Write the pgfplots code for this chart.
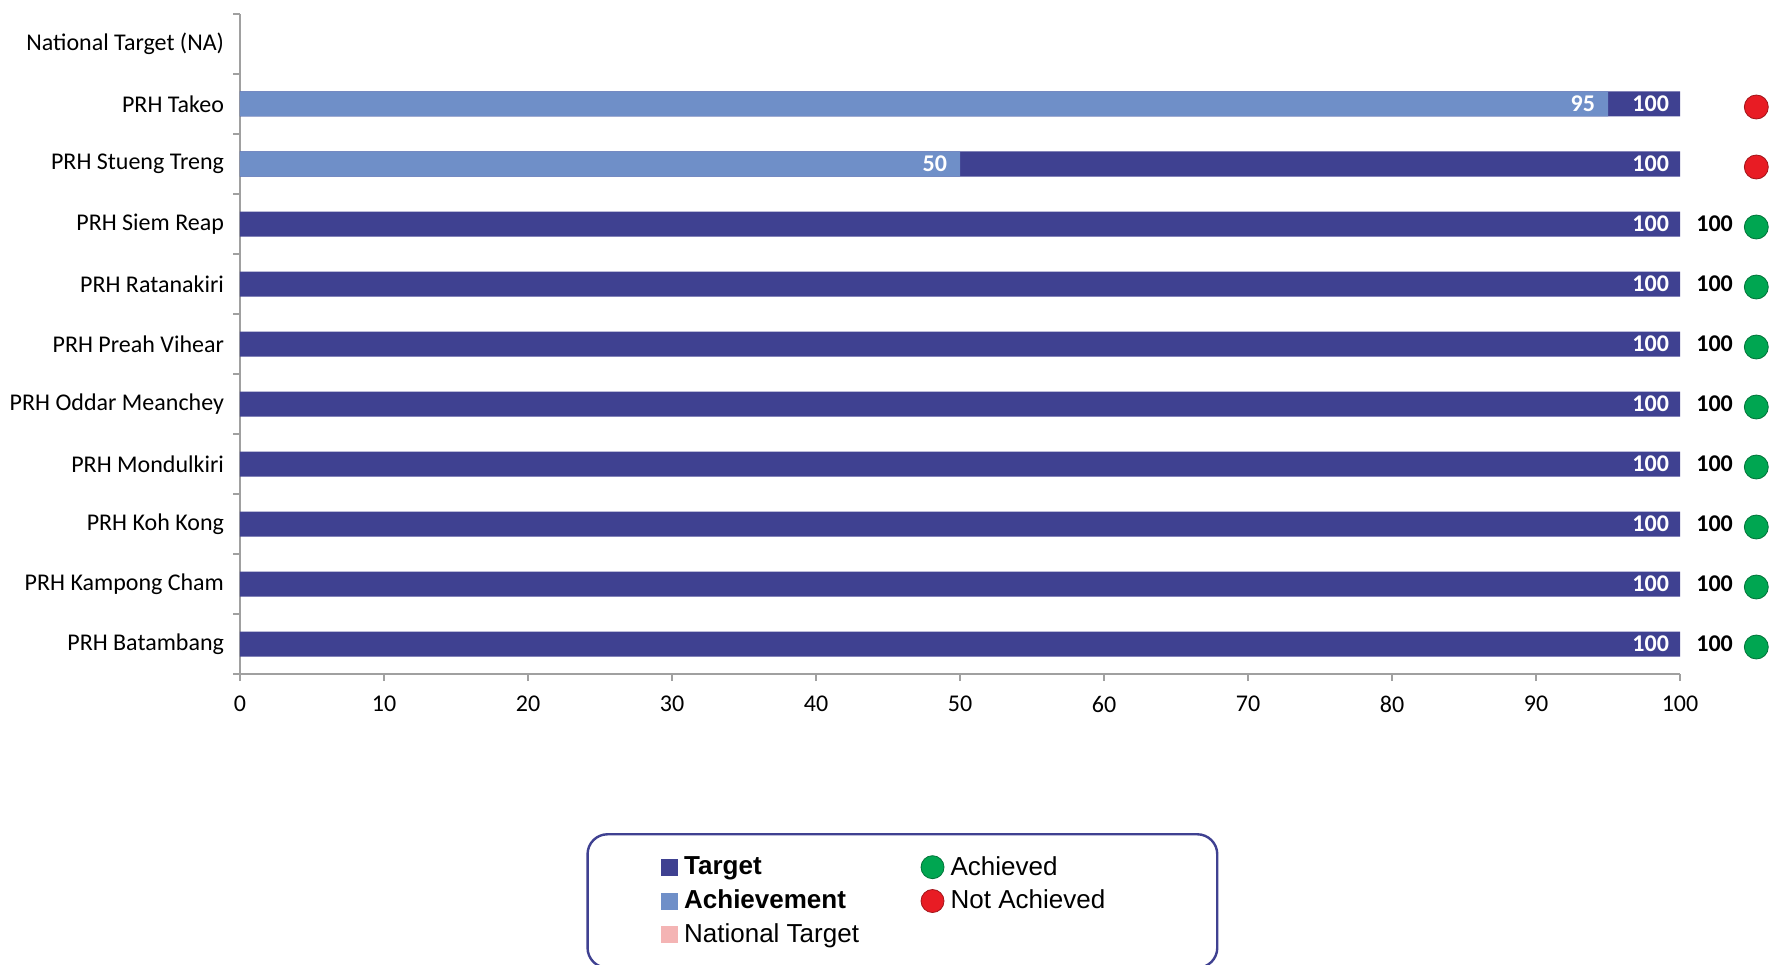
\documentclass[border=0pt]{standalone}
\usepackage{fontspec}
\setmainfont{Carlito}
\newfontfamily\arial{Liberation Sans}
\usepackage{pgfplots}
\pgfplotsset{compat=1.18}

\definecolor{tgt}{RGB}{63,65,145}
\definecolor{ach}{RGB}{111,143,200}
\definecolor{nat}{RGB}{244,180,180}
\definecolor{okgreen}{RGB}{0,166,81}
\definecolor{nored}{RGB}{232,28,36}
\definecolor{axgrey}{RGB}{160,160,160}

\begin{document}
\begin{tikzpicture}
\begin{axis}[
    at={(0,0)}, anchor=south west,
    scale only axis, width=720pt, height=330pt,
    xmin=0, xmax=100, ymin=-0.5, ymax=10.5,
    clip=false,
    axis x line*=bottom, axis y line*=left,
    axis line style={axgrey, line width=0.8pt},
    tick align=outside,
    xtick={0,10,...,100},
    major tick length=3.5pt, minor tick length=3.5pt,
    tick style={axgrey, line width=0.8pt},
    ytick={0,...,10},
    yticklabels={PRH Batambang, PRH Kampong Cham, PRH Koh Kong, PRH Mondulkiri,
      PRH Oddar Meanchey, PRH Preah Vihear, PRH Ratanakiri, PRH Siem Reap,
      PRH Stueng Treng, PRH Takeo, National Target (NA)},
    minor ytick={-0.5,0.5,...,10.5},
    major y tick style={draw=none},
    tick label style={font=\fontsize{12}{14}\selectfont, black},
    yticklabel style={xshift=-1pt},
    xticklabel style={yshift=-4pt},
    /pgf/number format/assume math mode=true,
    legend columns=2,
    legend cell align=left,
    legend style={at={(0.46,-0.241)}, anchor=north,
      draw=tgt, line width=1.2pt, rounded corners=10pt,
      inner xsep=37pt, inner ysep=9pt, row sep=2pt,
      font=\arial\fontsize{13}{15}\selectfont,
      /tikz/every odd column/.append style={column sep=1.3pt},
      /tikz/every even column/.append style={column sep=29pt}},
]

% target bars
\addplot[forget plot, xbar, bar width=12.5pt, bar shift=0pt, fill=tgt, draw=none,
    nodes near coords={\bfseries 100},
    nodes near coords style={anchor=east, text=white, xshift=-2pt,
      font=\fontsize{12}{14}\selectfont}]
    coordinates {(100,0) (100,1) (100,2) (100,3) (100,4) (100,5) (100,6) (100,7) (100,8) (100,9)};

% achievement bars (only where below target)
\addplot[forget plot, xbar, bar width=12.5pt, bar shift=0pt, fill=ach, draw=none,
    point meta=x, nodes near coords,
    nodes near coords style={anchor=east, text=white, xshift=-3pt,
      font=\fontsize{12}{14}\selectfont\bfseries}]
    coordinates {(50,8) (95,9)};

% achievement values outside
\addplot[forget plot, draw=none, mark=none,
    nodes near coords={\bfseries 100},
    nodes near coords style={anchor=center, text=black,
      font=\fontsize{12}{14}\selectfont}]
    coordinates {(102.4,0) (102.4,1) (102.4,2) (102.4,3) (102.4,4) (102.4,5) (102.4,6) (102.4,7)};

% status markers
\addplot[forget plot, only marks, mark=*, mark size=6pt,
    mark options={fill=okgreen, draw=okgreen!70!black, line width=0.4pt}]
    coordinates {(105.3,-0.05) (105.3,0.95) (105.3,1.95) (105.3,2.95) (105.3,3.95) (105.3,4.95) (105.3,5.95) (105.3,6.95)};
\addplot[forget plot, only marks, mark=*, mark size=6pt,
    mark options={fill=nored, draw=nored!70!black, line width=0.4pt}]
    coordinates {(105.3,7.95) (105.3,8.95)};

% legend
\addlegendimage{only marks, mark=square*, mark size=4pt, draw=tgt, fill=tgt, mark options={fill=tgt, draw=tgt, line width=0pt}}
\addlegendentry{\textbf{Target}}
\addlegendimage{only marks, mark=*, mark size=5.75pt, mark options={fill=okgreen, draw=okgreen!70!black, line width=0.4pt}}
\addlegendentry{Achieved}
\addlegendimage{only marks, mark=square*, mark size=4pt, draw=ach, fill=ach, mark options={fill=ach, draw=ach, line width=0pt}}
\addlegendentry{\textbf{Achievement}}
\addlegendimage{only marks, mark=*, mark size=5.75pt, mark options={fill=nored, draw=nored!70!black, line width=0.4pt}}
\addlegendentry{Not Achieved\hspace*{17pt}}
\addlegendimage{only marks, mark=square*, mark size=4pt, draw=nat, fill=nat, mark options={fill=nat, draw=nat, line width=0pt}}
\addlegendentry{National Target}
\end{axis}
\pgfresetboundingbox
\useasboundingbox (-120pt,-145pt) rectangle (768pt,337pt);
\end{tikzpicture}
\end{document}
